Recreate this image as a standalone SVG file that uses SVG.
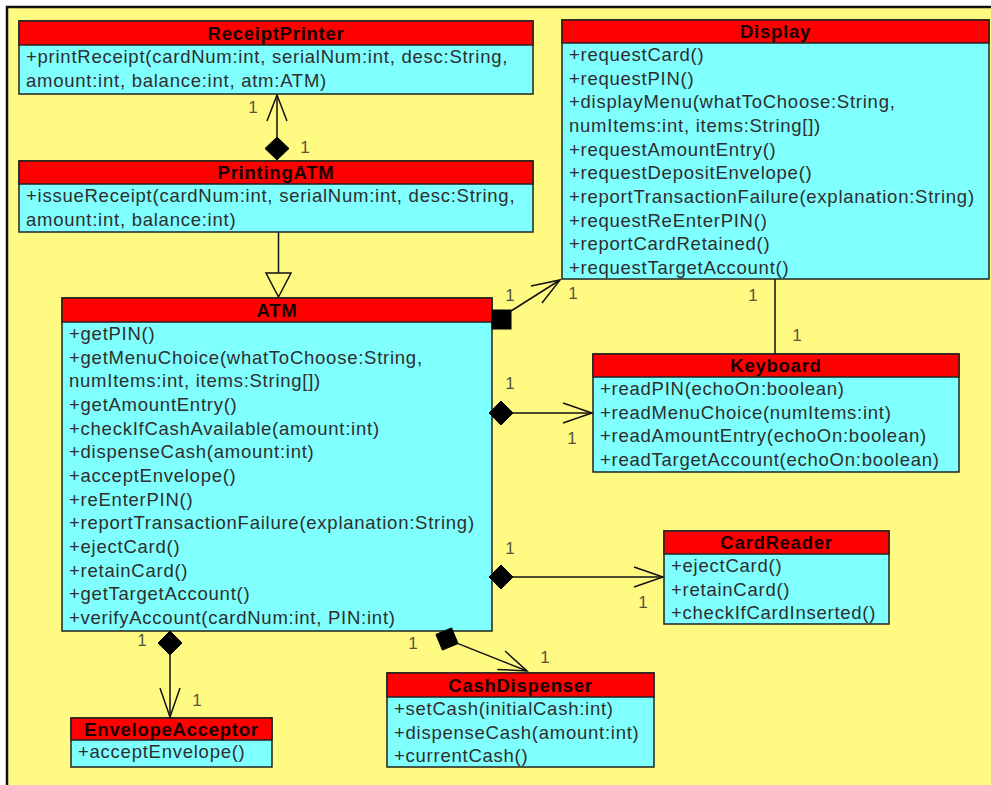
<svg xmlns="http://www.w3.org/2000/svg" width="991" height="785" viewBox="0 0 991 785">
  <style>
    .bg{fill:#fffa82;stroke:#111;stroke-width:2.5}
    .hdr{fill:#ff0000;stroke:#222;stroke-width:1.5}
    .body{fill:#80ffff;stroke:#222;stroke-width:1.5}
    .t{font-family:"Liberation Sans",Arial,sans-serif;font-size:18.5px;letter-spacing:0.75px;fill:#2e2e2e}
    .h{font-family:"Liberation Sans",Arial,sans-serif;font-size:18.5px;letter-spacing:0.75px;font-weight:bold;text-anchor:middle;fill:#1a0000}
    .m{font-family:"Liberation Sans",Arial,sans-serif;font-size:17px;fill:#55553f;text-anchor:middle}
    .ln{stroke:#111;stroke-width:1.5;fill:none}
    .head{stroke:#111;stroke-width:1.5;fill:none}
    .tri{stroke:#111;stroke-width:1.5;fill:#fffa82}
    .dia{fill:#000;stroke:#000;stroke-width:1}
  </style>

  <rect width="991" height="785" fill="#ffffff"/>
  <rect class="bg" x="7" y="7" width="992" height="792"/>

  <g id="ReceiptPrinter">
    <rect class="body" x="19" y="21" width="514" height="73"/>
    <rect class="hdr" x="19" y="21" width="514" height="24"/>
    <text class="h" x="276" y="39.5">ReceiptPrinter</text>
    <text class="t" x="26" y="63">+printReceipt(cardNum:int, serialNum:int, desc:String,</text>
    <text class="t" x="26" y="86.5">amount:int, balance:int, atm:ATM)</text>
  </g>

  <g id="PrintingATM">
    <rect class="body" x="19" y="161" width="514" height="71"/>
    <rect class="hdr" x="19" y="161" width="514" height="23"/>
    <text class="h" x="276" y="179">PrintingATM</text>
    <text class="t" x="26" y="202">+issueReceipt(cardNum:int, serialNum:int, desc:String,</text>
    <text class="t" x="26" y="225.5">amount:int, balance:int)</text>
  </g>

  <g id="Display">
    <rect class="body" x="562" y="20" width="427" height="259"/>
    <rect class="hdr" x="562" y="20" width="427" height="23"/>
    <text class="h" x="775.5" y="38">Display</text>
    <text class="t" x="569" y="61">+requestCard()</text>
    <text class="t" x="569" y="84.7">+requestPIN()</text>
    <text class="t" x="569" y="108.3">+displayMenu(whatToChoose:String,</text>
    <text class="t" x="569" y="132">numItems:int, items:String[])</text>
    <text class="t" x="569" y="155.7">+requestAmountEntry()</text>
    <text class="t" x="569" y="179.3">+requestDepositEnvelope()</text>
    <text class="t" x="569" y="203">+reportTransactionFailure(explanation:String)</text>
    <text class="t" x="569" y="226.7">+requestReEnterPIN()</text>
    <text class="t" x="569" y="250.3">+reportCardRetained()</text>
    <text class="t" x="569" y="274">+requestTargetAccount()</text>
  </g>

  <g id="ATM">
    <rect class="body" x="62" y="298" width="430" height="333"/>
    <rect class="hdr" x="62" y="298" width="430" height="24"/>
    <text class="h" x="277" y="316.5">ATM</text>
    <text class="t" x="69" y="340">+getPIN()</text>
    <text class="t" x="69" y="363.7">+getMenuChoice(whatToChoose:String,</text>
    <text class="t" x="69" y="387.3">numItems:int, items:String[])</text>
    <text class="t" x="69" y="411">+getAmountEntry()</text>
    <text class="t" x="69" y="434.7">+checkIfCashAvailable(amount:int)</text>
    <text class="t" x="69" y="458.3">+dispenseCash(amount:int)</text>
    <text class="t" x="69" y="482">+acceptEnvelope()</text>
    <text class="t" x="69" y="505.7">+reEnterPIN()</text>
    <text class="t" x="69" y="529.3">+reportTransactionFailure(explanation:String)</text>
    <text class="t" x="69" y="553">+ejectCard()</text>
    <text class="t" x="69" y="576.7">+retainCard()</text>
    <text class="t" x="69" y="600.3">+getTargetAccount()</text>
    <text class="t" x="69" y="624">+verifyAccount(cardNum:int, PIN:int)</text>
  </g>

  <g id="Keyboard">
    <rect class="body" x="593" y="354" width="366" height="118"/>
    <rect class="hdr" x="593" y="354" width="366" height="23"/>
    <text class="h" x="776" y="372">Keyboard</text>
    <text class="t" x="600" y="395">+readPIN(echoOn:boolean)</text>
    <text class="t" x="600" y="418.7">+readMenuChoice(numItems:int)</text>
    <text class="t" x="600" y="442.3">+readAmountEntry(echoOn:boolean)</text>
    <text class="t" x="600" y="466">+readTargetAccount(echoOn:boolean)</text>
  </g>

  <g id="CardReader">
    <rect class="body" x="664" y="531" width="225" height="93"/>
    <rect class="hdr" x="664" y="531" width="225" height="23"/>
    <text class="h" x="776.5" y="549">CardReader</text>
    <text class="t" x="671" y="572">+ejectCard()</text>
    <text class="t" x="671" y="595.7">+retainCard()</text>
    <text class="t" x="671" y="619.3">+checkIfCardInserted()</text>
  </g>

  <g id="EnvelopeAcceptor">
    <rect class="body" x="71" y="718" width="201" height="49"/>
    <rect class="hdr" x="71" y="718" width="201" height="22"/>
    <text class="h" x="171.5" y="735.5">EnvelopeAcceptor</text>
    <text class="t" x="78" y="758">+acceptEnvelope()</text>
  </g>

  <g id="CashDispenser">
    <rect class="body" x="387" y="673" width="267" height="94"/>
    <rect class="hdr" x="387" y="673" width="267" height="24"/>
    <text class="h" x="520.5" y="691.5">CashDispenser</text>
    <text class="t" x="394" y="715">+setCash(initialCash:int)</text>
    <text class="t" x="394" y="738.7">+dispenseCash(amount:int)</text>
    <text class="t" x="394" y="762.3">+currentCash()</text>
  </g>

  <!-- connectors, drawn over the class boxes so end markers sit on the borders -->
  <g id="connectors">
    <!-- PrintingATM composes ReceiptPrinter -->
    <line class="ln" x1="277" y1="137" x2="277" y2="95"/>
    <polyline class="head" points="267,121 277,95 287,121"/>
    <polygon class="dia" points="277,137 289,148.5 277,160 265,148.5"/>
    <text class="m" x="253" y="113">1</text>
    <text class="m" x="305" y="153">1</text>

    <!-- ATM generalizes PrintingATM -->
    <line class="ln" x1="278.5" y1="232" x2="278.5" y2="273"/>
    <polygon class="tri" points="266,273 291,273 278.5,297"/>

    <!-- ATM composes Display -->
    <rect class="dia" x="492" y="310" width="19" height="19"/>
    <line class="ln" x1="511" y1="311" x2="560" y2="280"/>
    <polyline class="head" points="531,286 560,280 542,303"/>
    <text class="m" x="510" y="301">1</text>
    <text class="m" x="573" y="299">1</text>

    <!-- Display associated with Keyboard -->
    <line class="ln" x1="775" y1="279" x2="775" y2="354"/>
    <text class="m" x="753" y="301">1</text>
    <text class="m" x="797" y="341">1</text>

    <!-- ATM composes Keyboard -->
    <polygon class="dia" points="489,413 501,401 513,413 501,425"/>
    <line class="ln" x1="513" y1="413" x2="592" y2="413"/>
    <polyline class="head" points="563,403 592,413 563,423"/>
    <text class="m" x="510" y="389">1</text>
    <text class="m" x="572" y="444">1</text>

    <!-- ATM composes CardReader -->
    <polygon class="dia" points="489,577 501,565 513,577 501,589"/>
    <line class="ln" x1="513" y1="577" x2="663" y2="577"/>
    <polyline class="head" points="634,567 663,577 634,587"/>
    <text class="m" x="510" y="554">1</text>
    <text class="m" x="643" y="608">1</text>

    <!-- ATM composes EnvelopeAcceptor -->
    <polygon class="dia" points="170,631 182,643 170,655 158,643"/>
    <line class="ln" x1="170" y1="655" x2="170" y2="717"/>
    <polyline class="head" points="160,688 170,717 180,688"/>
    <text class="m" x="142" y="646">1</text>
    <text class="m" x="197" y="706">1</text>

    <!-- ATM composes CashDispenser -->
    <polygon class="dia" points="435.9,634.4 451.6,627.9 458.1,643.6 442.4,650.1"/>
    <line class="ln" x1="458.1" y1="643.6" x2="527" y2="671"/>
    <polyline class="head" points="497.3,669.4 527,671 505.1,651"/>
    <text class="m" x="413" y="649">1</text>
    <text class="m" x="545" y="663">1</text>
  </g>
</svg>
